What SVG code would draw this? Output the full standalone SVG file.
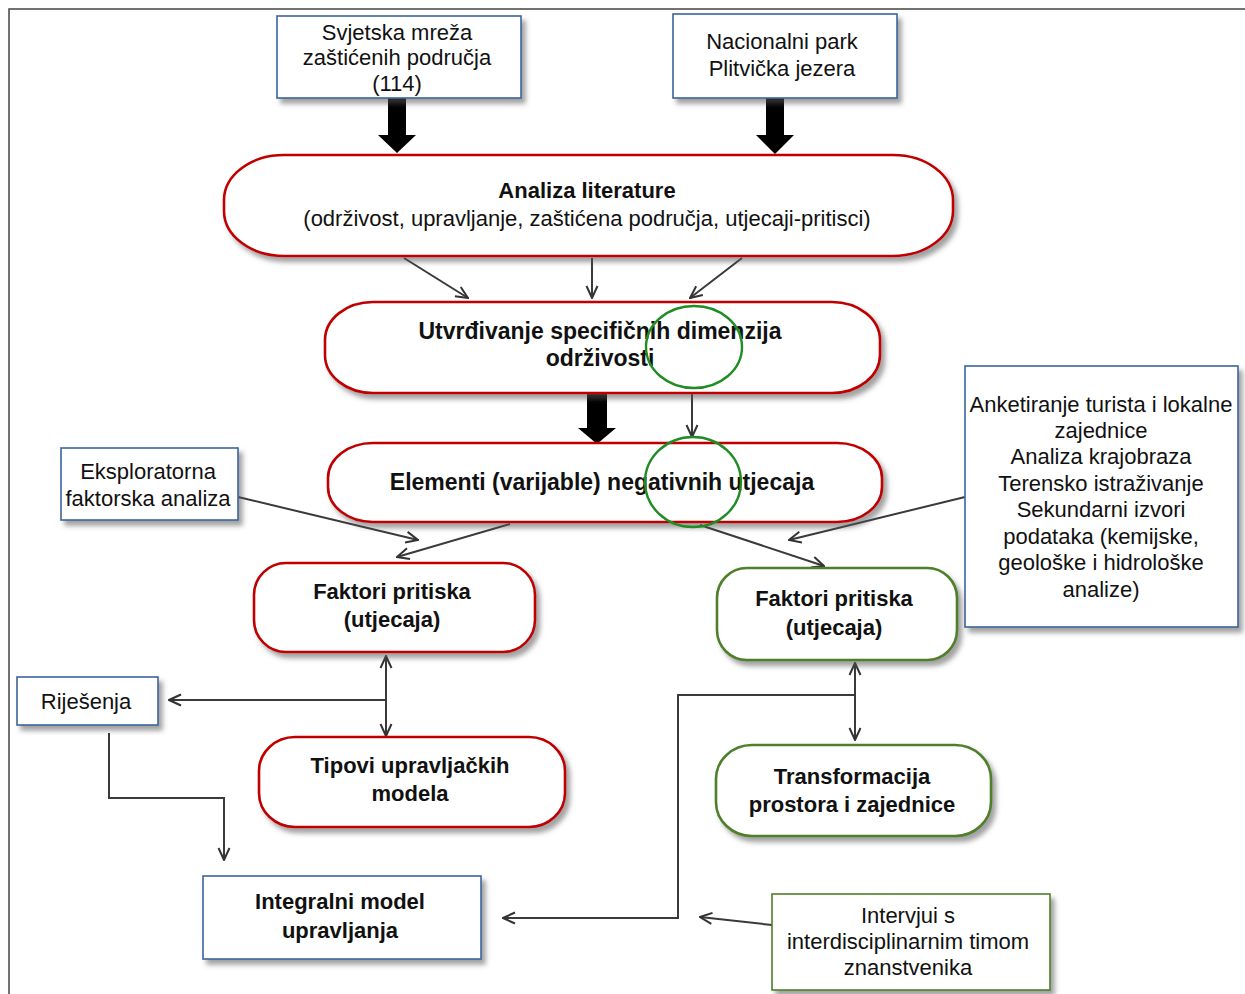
<svg xmlns="http://www.w3.org/2000/svg" width="1245" height="994" viewBox="0 0 1245 994">
<style>
text{font-family:"Liberation Sans",Arial,sans-serif;fill:#111;text-anchor:middle}
.r{font-size:22px}
.b{font-size:22px;font-weight:bold}
.bbox{fill:#fff;stroke:#3e649c;stroke-width:1.6}
.gbox{fill:#fff;stroke:#4f7f2b;stroke-width:1.6}
.red{fill:#fff;stroke:#c00000;stroke-width:2.6}
.grn{fill:#fff;stroke:#4f7f2b;stroke-width:2.6}
.c{fill:none;stroke:#3a3a3a;stroke-width:2}
.ring{fill:none;stroke:#1f8c24;stroke-width:2.4}
</style>
<defs>
<filter id="sh" x="-10%" y="-10%" width="125%" height="130%">
<feDropShadow dx="4" dy="5" stdDeviation="2.5" flood-color="#555" flood-opacity="0.55"/>
</filter>
<marker id="ar" viewBox="0 0 14 14" refX="13" refY="7" markerWidth="14" markerHeight="14" markerUnits="userSpaceOnUse" orient="auto-start-reverse">
<path d="M1,1.5 L13,7 L1,12.5" fill="none" stroke="#333" stroke-width="2"/>
</marker>
</defs>
<rect width="1245" height="994" fill="#fff"/>
<g id="frame"><path d="M9,994 V9 H1245" fill="none" stroke="#444" stroke-width="1.5"/></g>

<g id="connectors">
<polygon points="388,98 406,98 406,135 416,135 397,153 378,135 388,135" fill="#000"/>
<polygon points="766,98 784,98 784,135 794,135 775,154 756,135 766,135" fill="#000"/>
<polygon points="587,394 607,394 607,428 616,428 597,444 578,428 587,428" fill="#000"/>
<line class="c" x1="404" y1="258" x2="468" y2="298" marker-end="url(#ar)"/>
<line class="c" x1="592" y1="258" x2="592" y2="298" marker-end="url(#ar)"/>
<line class="c" x1="742" y1="258" x2="690" y2="298" marker-end="url(#ar)"/>
<line class="c" x1="692" y1="393" x2="692" y2="437" marker-end="url(#ar)"/>
<line class="c" x1="238" y1="497" x2="418" y2="540" marker-end="url(#ar)"/>
<line class="c" x1="510" y1="524" x2="397" y2="557" marker-end="url(#ar)"/>
<line class="c" x1="700" y1="525" x2="824" y2="566" marker-end="url(#ar)"/>
<line class="c" x1="965" y1="497" x2="789" y2="540" marker-end="url(#ar)"/>
<line class="c" x1="386" y1="656" x2="386" y2="736" marker-start="url(#ar)" marker-end="url(#ar)"/>
<line class="c" x1="386" y1="700" x2="169" y2="700" marker-end="url(#ar)"/>
<polyline class="c" points="109,733 109,798 224,798 224,860" marker-end="url(#ar)"/>
<line class="c" x1="855" y1="663" x2="855" y2="740" marker-start="url(#ar)" marker-end="url(#ar)"/>
<polyline class="c" points="855,695 678,695 678,918 503,918" marker-end="url(#ar)"/>
<line class="c" x1="772" y1="925" x2="700" y2="917" marker-end="url(#ar)"/>
</g>

<g id="n-svjetska">
<rect class="bbox" x="277" y="16" width="244" height="82" filter="url(#sh)"/>
<text class="r" x="397" y="40">Svjetska mreža</text>
<text class="r" x="397" y="65">zaštićenih područja</text>
<text class="r" x="397" y="91">(114)</text>
</g>
<g id="n-nacionalni">
<rect class="bbox" x="673" y="14" width="224" height="84" filter="url(#sh)"/>
<text class="r" x="782" y="49">Nacionalni park</text>
<text class="r" x="782" y="76">Plitvička jezera</text>
</g>
<g id="n-analiza">
<rect class="red" x="224" y="155" width="729" height="101" rx="60" ry="45" filter="url(#sh)"/>
<text class="b" x="587" y="198">Analiza literature</text>
<text class="r" x="587" y="226">(održivost, upravljanje, zaštićena područja, utjecaji-pritisci)</text>
</g>
<g id="n-utvrdivanje">
<rect class="red" x="325" y="302" width="555" height="91" rx="48" ry="38" filter="url(#sh)"/>
<text class="b" x="600" y="339" style="font-size:23px">Utvrđivanje specifičnih dimenzija</text>
<text class="b" x="600" y="366" style="font-size:23px">održivosti</text>
</g>
<g id="n-elementi">
<rect class="red" x="328" y="443" width="554" height="79" rx="45" ry="35" filter="url(#sh)"/>
<text class="b" x="602" y="490" style="font-size:23px">Elementi (varijable) negativnih utjecaja</text>
</g>
<g id="rings">
<ellipse class="ring" cx="694" cy="347" rx="48" ry="41"/>
<ellipse class="ring" cx="693" cy="482" rx="48" ry="45"/>
</g>
<g id="n-eksploratorna">
<rect class="bbox" x="61" y="448" width="177" height="72" filter="url(#sh)"/>
<text class="r" x="148" y="479">Eksploratorna</text>
<text class="r" x="148" y="506">faktorska analiza</text>
</g>
<g id="n-anketiranje">
<rect class="bbox" x="965" y="366" width="273" height="261" filter="url(#sh)"/>
<text class="r" x="1101" y="412">Anketiranje turista i lokalne</text>
<text class="r" x="1101" y="438">zajednice</text>
<text class="r" x="1101" y="464">Analiza krajobraza</text>
<text class="r" x="1101" y="491">Terensko istraživanje</text>
<text class="r" x="1101" y="517">Sekundarni izvori</text>
<text class="r" x="1101" y="544">podataka (kemijske,</text>
<text class="r" x="1101" y="570">geološke i hidrološke</text>
<text class="r" x="1101" y="597">analize)</text>
</g>
<g id="n-faktori-l">
<rect class="red" x="254" y="563" width="281" height="89" rx="32" ry="32" filter="url(#sh)"/>
<text class="b" x="392" y="599">Faktori pritiska</text>
<text class="b" x="392" y="627">(utjecaja)</text>
</g>
<g id="n-faktori-r">
<rect class="grn" x="717" y="568" width="240" height="92" rx="30" ry="30" filter="url(#sh)"/>
<text class="b" x="834" y="606">Faktori pritiska</text>
<text class="b" x="834" y="635">(utjecaja)</text>
</g>
<g id="n-rijesenja">
<rect class="bbox" x="17" y="677" width="141" height="48" filter="url(#sh)"/>
<text class="r" x="86" y="709">Riješenja</text>
</g>
<g id="n-tipovi">
<rect class="red" x="259" y="737" width="306" height="90" rx="36" ry="34" filter="url(#sh)"/>
<text class="b" x="410" y="773">Tipovi upravljačkih</text>
<text class="b" x="410" y="801">modela</text>
</g>
<g id="n-transformacija">
<rect class="grn" x="716" y="745" width="275" height="91" rx="36" ry="34" filter="url(#sh)"/>
<text class="b" x="852" y="784">Transformacija</text>
<text class="b" x="852" y="812">prostora i zajednice</text>
</g>
<g id="n-integralni">
<rect class="bbox" x="203" y="876" width="278" height="83" filter="url(#sh)"/>
<text class="b" x="340" y="909">Integralni model</text>
<text class="b" x="340" y="938">upravljanja</text>
</g>
<g id="n-intervjui">
<rect class="gbox" x="772" y="894" width="278" height="96" filter="url(#sh)"/>
<text class="r" x="908" y="923">Intervjui s</text>
<text class="r" x="908" y="949">interdisciplinarnim timom</text>
<text class="r" x="908" y="975">znanstvenika</text>
</g>
</svg>
